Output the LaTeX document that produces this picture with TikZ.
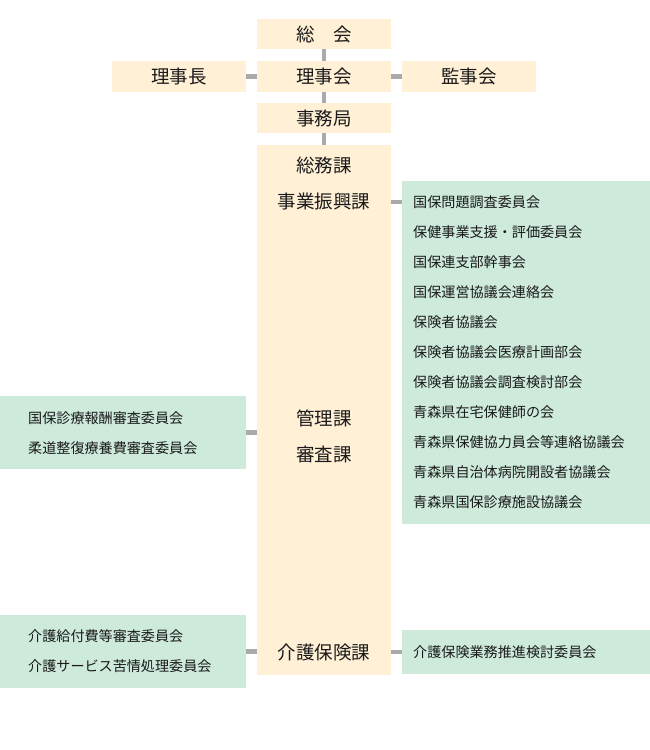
\documentclass[tikz,border=0pt]{standalone}
\usepackage{fontspec}
\setmainfont{Noto Sans CJK JP}
\definecolor{beige}{HTML}{FFF0D6}
\definecolor{mint}{HTML}{CDEADB}
\definecolor{linkgray}{HTML}{AAAAAA}
\definecolor{ink}{HTML}{1A1A1A}
\begin{document}
\begin{tikzpicture}[x=1pt,y=-1pt,
    office/.style={fill=beige,inner sep=0pt,minimum width=134pt,font=\fontsize{18.5}{19}\selectfont,text=ink},
    cmte/.style={fill=mint,inner sep=0pt},
    item/.style={anchor=west,inner sep=0pt,font=\fontsize{14.1}{15}\selectfont,text=ink},
    dept/.style={inner sep=0pt,font=\fontsize{18.5}{19}\selectfont,text=ink},
    link/.style={draw=linkgray,line width=4.5pt}]
    \useasboundingbox (0,0) rectangle (650,750);

    % top of the chart
    \node[office,minimum height=30pt] (soukai) at (324,34) {総　会};
    \node[office,minimum height=31pt] (rijikai) at (324,76.5) {理事会};
    \node[office,minimum height=31pt] (rijicho) at (179,76.5) {理事長};
    \node[office,minimum height=31pt] (kanjikai) at (469,76.5) {監事会};
    \node[office,minimum height=30pt] (jimukyoku) at (324,118) {事務局};
    \node[office,minimum height=530pt] (bureau) at (324,410) {};

    % sections of the bureau
    \node[dept] (soumu) at (324,165) {総務課};
    \node[dept] (shinko) at (324,201) {事業振興課};
    \node[dept] (kanri) at (324,418) {管理課};
    \node[dept] (shinsa) at (324,454) {審査課};
    \node[dept] (kaigo) at (324,652) {介護保険課};

    % committees
    \node[cmte,minimum width=248pt,minimum height=343pt] (jigyo) at (526,352.5) {};
    \node[cmte,minimum width=248pt,minimum height=44pt] (kaigoR) at (526,652) {};
    \node[cmte,minimum width=246pt,minimum height=73pt] (shinsaL) at (123,432.5) {};
    \node[cmte,minimum width=246pt,minimum height=73pt] (kaigoL) at (123,651.5) {};

    \node[item] (j1) at (413,202) {国保問題調査委員会};
    \node[item] (j2) at (413,232) {保健事業支援・評価委員会};
    \node[item] (j3) at (413,262) {国保連支部幹事会};
    \node[item] (j4) at (413,292) {国保運営協議会連絡会};
    \node[item] (j5) at (413,322) {保険者協議会};
    \node[item] (j6) at (413,352) {保険者協議会医療計画部会};
    \node[item] (j7) at (413,382) {保険者協議会調査検討部会};
    \node[item] (j8) at (413,412) {青森県在宅保健師の会};
    \node[item] (j9) at (413,442) {青森県保健協力員会等連絡協議会};
    \node[item] (j10) at (413,472) {青森県自治体病院開設者協議会};
    \node[item] (j11) at (413,502) {青森県国保診療施設協議会};
    \node[item] (k1) at (413,652) {介護保険業務推進検討委員会};

    \node[item] (s1) at (28,418) {国保診療報酬審査委員会};
    \node[item] (s2) at (28,448) {柔道整復療養費審査委員会};
    \node[item] (l1) at (28,636) {介護給付費等審査委員会};
    \node[item] (l2) at (28,666) {介護サービス苦情処理委員会};

    % connectors
    \draw[link] (soukai.south) -- (rijikai.north);
    \draw[link] (rijicho.east) -- (rijikai.west);
    \draw[link] (rijikai.east) -- (kanjikai.west);
    \draw[link] (rijikai.south) -- (jimukyoku.north);
    \draw[link] (jimukyoku.south) -- (bureau.north);
    \draw[link] (bureau.east |- j1) -- (jigyo.west |- j1);
    \draw[link] (shinsaL.east) -- (bureau.west |- shinsaL.east);
    \draw[link] (kaigoL.east) -- (bureau.west |- kaigoL.east);
    \draw[link] (bureau.east |- kaigoR.west) -- (kaigoR.west);
\end{tikzpicture}
\end{document}
